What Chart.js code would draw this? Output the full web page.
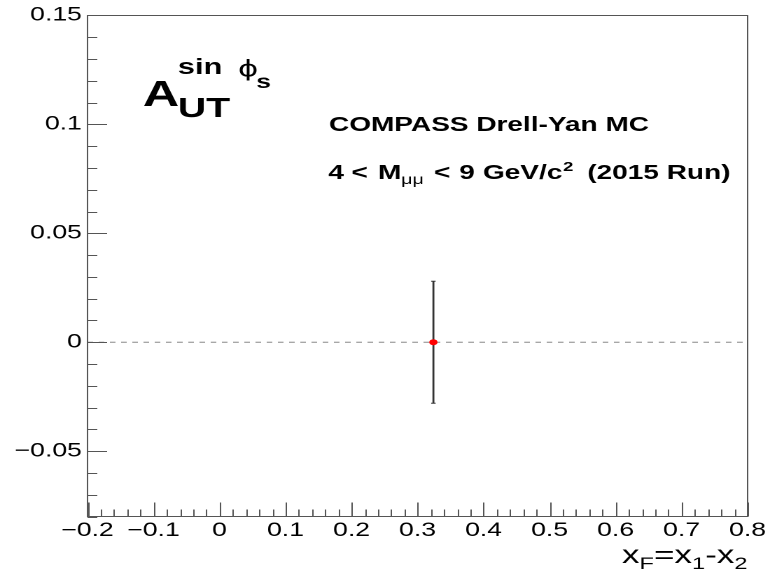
<!DOCTYPE html>
<html>
<head>
<meta charset="utf-8">
<script src="https://cdn.jsdelivr.net/npm/chart.js@4.4.1/dist/chart.umd.min.js"></script>
<style>
  html, body { margin: 0; padding: 0; background: #fff; overflow: hidden; }
  /* the reference plot is stretched sideways, so the chart is drawn narrow and widened */
  #wrap { width: 552px; height: 572px; transform: scaleX(1.4); transform-origin: 0 0; }
</style>
</head>
<body>
<div id="wrap"><canvas id="chart" width="552" height="572"></canvas></div>
<script>
// data
const xValues = [0.324];
const yValues = [0.0];
const yErrors = [0.028];
const xTickLabels = [-0.2, -0.1, 0, 0.1, 0.2, 0.3, 0.4, 0.5, 0.6, 0.7, 0.8];
const yTickLabels = [-0.05, 0, 0.05, 0.1, 0.15];
const xRange = [-0.2, 0.8];
const yRange = [-0.08, 0.15];

const SANS = "'Liberation Sans', Arial, Helvetica, sans-serif";

function fmt(v) {
    return String(Math.round(v * 1000) / 1000).replace('-', '\u2212');
}

// draw a row of text pieces (for sub/superscripts), returns total width
function drawRuns(ctx, x, y, runs, measureOnly) {
    let cx = x;
    for (const r of runs) {
        ctx.font = r.font;
        const px = (r.at !== undefined) ? r.at : cx;
        if (!measureOnly) ctx.fillText(r.t, px, y + (r.dy || 0));
        cx = px + ctx.measureText(r.t).width + (r.gap || 0);
    }
    return cx - x;
}

// frame plus inward ROOT-style major/minor ticks
const frameTicks = {
    id: 'frameTicks',
    afterDatasetsDraw(chart) {
        const { ctx, chartArea: a, scales } = chart;
        const xs = scales.x, ys = scales.y;
        ctx.save();
        ctx.strokeStyle = '#555';
        ctx.lineWidth = 1;
        ctx.beginPath();
        for (let i = 0; ; i++) {
            const v = xRange[0] + i * 0.02;
            if (v > xRange[1] + 1e-9) break;
            const px = Math.round(xs.getPixelForValue(v)) + 0.5;
            const len = (i % 5 === 0) ? 14 : 7;
            ctx.moveTo(px, a.bottom);
            ctx.lineTo(px, a.bottom - len);
        }
        for (let i = 0; ; i++) {
            const v = yRange[0] + i * 0.01;
            if (v > yRange[1] + 1e-9) break;
            const py = Math.round(ys.getPixelForValue(v)) + 0.5;
            const q = v / 0.05;
            const major = Math.abs(q - Math.round(q)) < 1e-6;
            ctx.moveTo(a.left, py);
            ctx.lineTo(a.left + (major ? 14 : 7), py);
        }
        ctx.stroke();
        ctx.strokeRect(a.left, a.top, a.right - a.left, a.bottom - a.top);
        ctx.restore();
    }
};

// labels written on the plot
const plotTexts = {
    id: 'plotTexts',
    afterDraw(chart) {
        const { ctx, chartArea: a } = chart;
        ctx.save();
        ctx.fillStyle = '#000';
        ctx.textBaseline = 'alphabetic';
        ctx.textAlign = 'left';

        // A_UT^{sin phi_s}
        drawRuns(ctx, 102, 106, [{ t: 'A', font: 'bold 36px ' + SANS }]);
        drawRuns(ctx, 127, 117, [{ t: 'UT', font: 'bold 28px ' + SANS }]);
        drawRuns(ctx, 127, 74, [{ t: 'sin', font: 'bold 22px ' + SANS }]);
        drawRuns(ctx, 170, 76, [{ t: '\u03D5', font: "22px 'DejaVu Sans', sans-serif" }]);
        drawRuns(ctx, 183, 88, [{ t: 's', font: 'bold 19px ' + SANS }]);

        const B20 = 'bold 20px ' + SANS;
        drawRuns(ctx, 235, 131, [{ t: 'COMPASS Drell-Yan MC', font: B20 }]);
        drawRuns(ctx, 234.5, 179, [
            { t: '4', font: B20, at: 234.5 },
            { t: '<', font: B20, at: 251 },
            { t: 'M', font: B20, at: 270 },
            { t: '\u03BC\u03BC', font: '14px ' + SANS, dy: 5, at: 286.5 },
            { t: '<', font: B20, at: 310 },
            { t: '9', font: B20, at: 328 },
            { t: 'GeV/c', font: B20, at: 345, gap: 0.5 },
            { t: '2', font: 'bold 13px ' + SANS, dy: -8 },
            { t: '(2015 Run)', font: B20, at: 419.5 }
        ]);

        // x axis title, right aligned to the frame
        const title = [
            { t: 'x', font: '25px ' + SANS },
            { t: 'F', font: '17px ' + SANS, dy: 6 },
            { t: '=x', font: '25px ' + SANS },
            { t: '1', font: '17px ' + SANS, dy: 6 },
            { t: '-x', font: '25px ' + SANS },
            { t: '2', font: '17px ' + SANS, dy: 6 }
        ];
        const w = drawRuns(ctx, 0, 0, title, true);
        drawRuns(ctx, a.right - w, 563, title);
        ctx.restore();
    }
};

const pointData = xValues.map((x, i) => ({ x: x, y: yValues[i] }));
const errorData = [];
xValues.forEach((x, i) => {
    errorData.push({ x: x, y: yValues[i] - yErrors[i] });
    errorData.push({ x: x, y: yValues[i] + yErrors[i] });
});
const zeroLine = [{ x: xRange[0], y: 0 }, { x: xRange[1], y: 0 }];

new Chart(document.getElementById('chart').getContext('2d'), {
    type: 'scatter',
    data: {
        datasets: [
            {
                label: 'zero',
                data: zeroLine,
                showLine: true,
                borderColor: '#888',
                borderWidth: 1,
                borderDash: [4, 4],
                pointRadius: 0,
                order: 3
            },
            {
                label: 'error',
                data: errorData,
                showLine: true,
                borderColor: '#333',
                borderWidth: 1.4,
                pointStyle: 'line',
                pointRadius: 1.6,
                pointBorderColor: '#333',
                pointBorderWidth: 1,
                order: 2
            },
            {
                label: 'MC',
                data: pointData,
                backgroundColor: '#ff0000',
                borderColor: '#ff0000',
                pointRadius: 3,
                pointBorderWidth: 0,
                order: 1
            }
        ]
    },
    options: {
        responsive: false,
        animation: false,
        devicePixelRatio: 2,
        layout: { padding: { top: 15.5, right: 18, bottom: 0, left: 0 } },
        plugins: {
            legend: { display: false },
            tooltip: { enabled: false }
        },
        scales: {
            x: {
                type: 'linear',
                min: xRange[0],
                max: xRange[1],
                afterBuildTicks: s => { s.ticks = xTickLabels.map(v => ({ value: v })); },
                afterFit: s => { s.height = 55.5; },
                grid: { display: true, drawOnChartArea: false, drawTicks: false },
                border: { display: false },
                ticks: {
                    autoSkip: false,
                    maxRotation: 0,
                    padding: 3,
                    color: '#000',
                    font: { family: SANS, size: 19 },
                    callback: v => fmt(v)
                }
            },
            y: {
                type: 'linear',
                min: yRange[0],
                max: yRange[1],
                afterBuildTicks: s => { s.ticks = yTickLabels.map(v => ({ value: v })); },
                afterFit: s => { s.width = 62.5; },
                grid: { display: true, drawOnChartArea: false, drawTicks: false },
                border: { display: false },
                ticks: {
                    autoSkip: false,
                    padding: 4,
                    color: '#000',
                    font: { family: SANS, size: 19 },
                    callback: v => fmt(v)
                }
            }
        }
    },
    plugins: [frameTicks, plotTexts]
});
</script>
</body>
</html>
